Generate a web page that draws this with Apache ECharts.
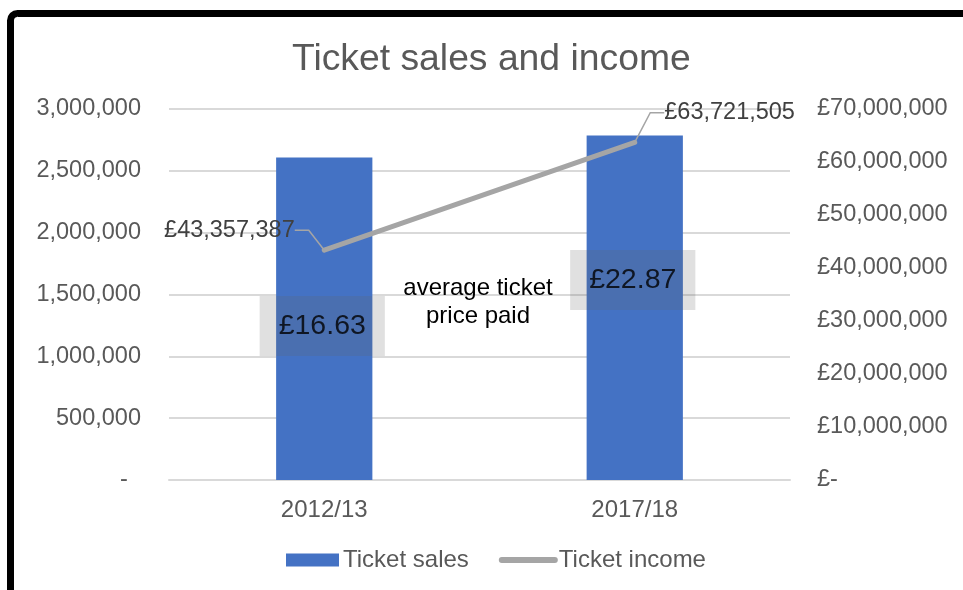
<!DOCTYPE html>
<html>
<head>
<meta charset="utf-8">
<script src="https://cdn.jsdelivr.net/npm/echarts@6/dist/echarts.min.js"></script>
<style>
  html, body { margin: 0; padding: 0; background: #fff; }
  #chart { width: 963px; height: 590px; }
</style>
</head>
<body>
<div id="chart"></div>
<script>
// Ticket sales (count) and ticket income (GBP) for two seasons
const seasons = ['2012/13', '2017/18'];
const ticketSales = [2607179, 2786248];
const ticketIncome = [43357387, 63721505];
// Average ticket price paid, shown in the grey call-out boxes
const avgPrice = [16.63, 22.87];
// Where each call-out box sits on the sales axis
const calloutLevel = [1245000, 1617000];

const salesTicks = { min: 0, max: 3000000, interval: 500000 };
const incomeTicks = { min: 0, max: 70000000, interval: 10000000 };

const FONT = '"Liberation Sans", Arial, sans-serif';
const GREY_TEXT = '#595959';

function withCommas(v) {
  return Math.round(v).toString().replace(/\B(?=(\d{3})+(?!\d))/g, ',');
}

const chart = echarts.init(document.getElementById('chart'), null, { renderer: 'canvas' });

// Offsets that pull the income labels away from their points
const incomeLabelShift = [
  { dx: -24, dy: -20 },
  { dx: 24, dy: -29 }
];

chart.setOption({
  backgroundColor: '#ffffff',
  animation: false,
  textStyle: { fontFamily: FONT },
  title: {
    text: 'Ticket sales and income',
    left: 287,
    top: 36,
    textStyle: { fontFamily: FONT, fontSize: 37.3, fontWeight: 'normal', color: GREY_TEXT }
  },
  legend: {
    bottom: 18,
    left: 286,
    padding: 0,
    itemWidth: 53,
    itemHeight: 13,
    itemGap: 30,
    textStyle: { fontFamily: FONT, fontSize: 24, color: GREY_TEXT, padding: [0, 0, 0, -1] },
    data: [
      { name: 'Ticket sales', icon: 'rect' },
      {
        name: 'Ticket income',
        itemStyle: { opacity: 0 },
        lineStyle: { color: '#A5A5A5', width: 6, cap: 'round' }
      }
    ]
  },
  grid: { left: 169, right: 173, top: 109, bottom: 110, containLabel: false },
  xAxis: {
    type: 'category',
    data: seasons,
    axisTick: { show: false },
    axisLine: { show: true, lineStyle: { color: '#D9D9D9', width: 2 } },
    axisLabel: { fontFamily: FONT, fontSize: 24, color: GREY_TEXT, margin: 18 }
  },
  yAxis: [
    {
      type: 'value',
      min: salesTicks.min,
      max: salesTicks.max,
      interval: salesTicks.interval,
      axisLine: { show: false },
      axisTick: { show: false },
      splitLine: { lineStyle: { color: '#D9D9D9', width: 2 } },
      axisLabel: {
        fontFamily: FONT, fontSize: 23.5, color: GREY_TEXT, margin: 28,
        formatter: v => (v === 0 ? '-  ' : withCommas(v))
      }
    },
    {
      type: 'value',
      min: incomeTicks.min,
      max: incomeTicks.max,
      interval: incomeTicks.interval,
      axisLine: { show: false },
      axisTick: { show: false },
      splitLine: { show: false },
      axisLabel: {
        fontFamily: FONT, fontSize: 23.5, color: GREY_TEXT, margin: 27,
        formatter: v => (v === 0 ? '£-' : '£' + withCommas(v))
      }
    }
  ],
  graphic: [
    {
      type: 'rect',
      shape: { x: 10.5, y: 13.5, width: 1200, height: 1200, r: 7 },
      style: { fill: 'none', stroke: '#000000', lineWidth: 7 },
      z: 100
    },
    {
      type: 'text',
      x: 478,
      y: 274,
      style: {
        text: 'average ticket\nprice paid',
        fontFamily: FONT,
        fontSize: 24,
        lineHeight: 28,
        fill: '#000000',
        align: 'center',
        verticalAlign: 'top'
      },
      z: 20
    }
  ],
  series: [
    {
      name: 'Ticket sales',
      type: 'bar',
      yAxisIndex: 0,
      data: ticketSales,
      barWidth: '31%',
      itemStyle: { color: '#4472C4' },
      z: 2
    },
    {
      name: 'Ticket income',
      type: 'line',
      yAxisIndex: 1,
      data: ticketIncome,
      symbol: 'circle',
      symbolSize: 1,
      showSymbol: true,
      itemStyle: { color: '#A5A5A5' },
      lineStyle: { color: '#A5A5A5', width: 5, cap: 'round' },
      label: {
        show: true,
        position: 'left',
        distance: 5,
        fontFamily: FONT,
        fontSize: 23.5,
        color: '#404040',
        formatter: p => '£' + withCommas(p.value)
      },
      labelLine: { show: true, length2: 14, lineStyle: { color: '#A5A5A5', width: 1.5 } },
      labelLayout: p => {
        if (p.dataIndex === 1) {
          return { x: p.rect.x + p.rect.width + 29, y: p.rect.y - 29, align: 'left', verticalAlign: 'middle' };
        }
        const s = incomeLabelShift[0];
        return { dx: s.dx, dy: s.dy };
      },
      z: 3
    },
    {
      name: 'avg price',
      type: 'scatter',
      yAxisIndex: 0,
      data: calloutLevel,
      symbolSize: 0,
      silent: true,
      label: {
        show: true,
        position: 'inside',
        offset: [-2, 0],
        fontFamily: FONT,
        fontSize: 28.5,
        color: '#000000',
        backgroundColor: 'rgba(100,100,100,0.25)',
        padding: [16, 19, 15, 19],
        formatter: p => '£' + avgPrice[p.dataIndex].toFixed(2)
      },
      z: 10
    }
  ]
});
</script>
</body>
</html>
